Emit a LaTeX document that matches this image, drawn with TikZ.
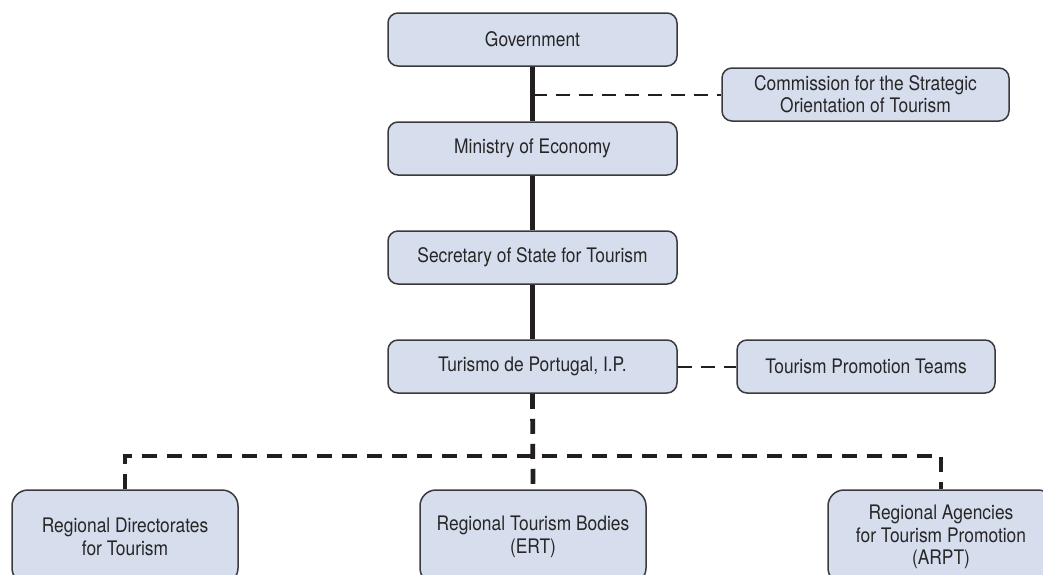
\documentclass[tikz,border=0pt]{standalone}
\usepackage{fontspec}
\setmainfont{TeX Gyre Heros}[FakeStretch=0.87]
\usepackage{tikz}
\usetikzlibrary{positioning}
\definecolor{boxfill}{HTML}{D6DEEE}
\definecolor{boxline}{HTML}{3A3A3C}
\definecolor{linkcol}{HTML}{231F20}

\begin{document}
\begin{tikzpicture}[
    x=0.5pt, y=-0.5pt,
    node distance=54.5pt,
    block/.style={draw=boxline, fill=boxfill, rectangle, rounded corners=5pt, minimum width=144.5pt, minimum height=26.5pt, align=center, line width=0.75pt, font=\fontsize{10}{11.2}\selectfont, text=black!85},
    region/.style={block, minimum width=113pt, minimum height=47pt, rounded corners=8pt},
    trunk/.style={draw=linkcol, line width=2.3pt},
    side/.style={draw=linkcol, line width=1pt, dash pattern=on 7pt off 4.5pt},
    branch/.style={draw=linkcol, line width=2.4pt, dash pattern=on 7.5pt off 5pt}
]
\clip (0,0) rectangle (1043,574);

% Central chain
\node[block] (gov) at (532.5,39.5) {Government};
\node[block, below of=gov] (econ) {Ministry of Economy};
\node[block, below of=econ] (sec) {Secretary of State for Tourism};
\node[block, below of=sec] (tp) {Turismo de Portugal, I.P.};

% Side bodies
\node[block, minimum width=143.5pt] (csot) at (865.5,94.5) {Commission for the Strategic\\Orientation of Tourism};
\node[block, minimum width=129pt] (tpt) at (866,366.5) {Tourism Promotion Teams};

% Regional level
\node[region] (rdt) at (125,537) {Regional Directorates\\for Tourism};
\node[region] (rtb) at (533,537) {Regional Tourism Bodies\\(ERT)};
\node[region] (arpt) at (941,537) {Regional Agencies\\for Tourism Promotion\\(ARPT)};

% Links
\draw[trunk] (gov) -- (econ);
\draw[trunk] (econ) -- (sec);
\draw[trunk] (sec) -- (tp);

\coordinate (csotjoin) at (gov.south |- csot.west);
\draw[side] (csotjoin) -- (csot.west);
\draw[side] (tp.east) -- (tpt.west);

\coordinate (bus) at (533,456);
\draw[branch] (tp.south) -- (rtb.north);
\draw[branch] (rdt.north) |- (bus) -| (arpt.north);

\end{tikzpicture}
\end{document}
